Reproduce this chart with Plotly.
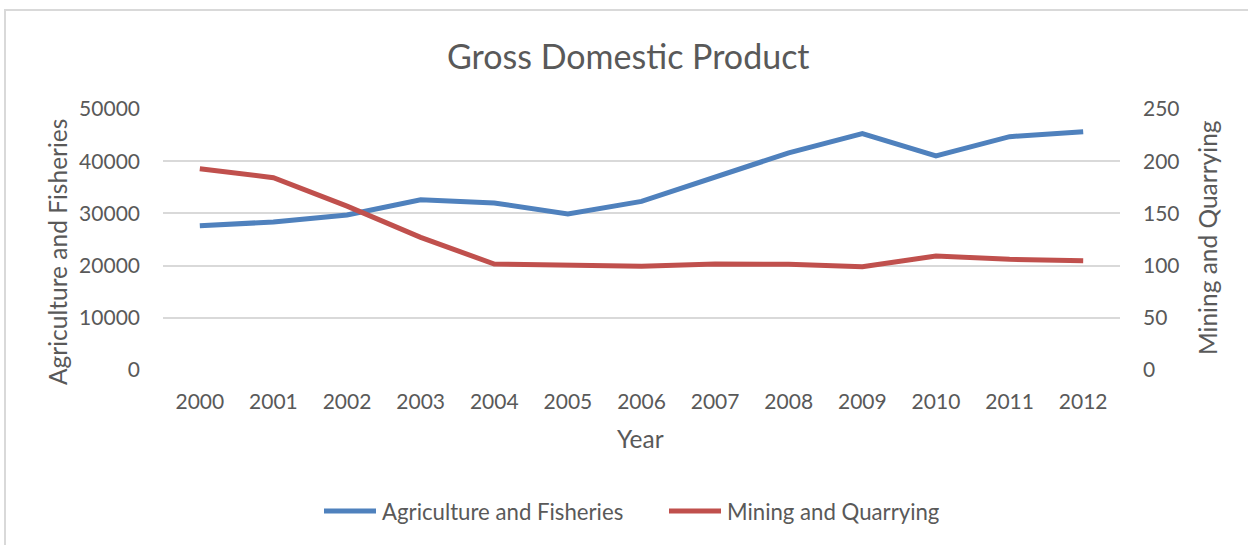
import plotly.graph_objects as go

# Gross domestic product by sector, 2000-2012
years = ["2000", "2001", "2002", "2003", "2004", "2005", "2006",
         "2007", "2008", "2009", "2010", "2011", "2012"]
agriculture_fisheries = [27650, 28350, 29700, 32600, 32000, 29900, 32300,
                         36900, 41600, 45300, 41000, 44700, 45650]
mining_quarrying = [192.8, 184.2, 157, 127, 101.5, 100.9, 99.3,
                    101.5, 101.2, 99, 109.2, 106, 104.7]

left_ticks = [0, 10000, 20000, 30000, 40000, 50000]
right_ticks = [0, 50, 100, 150, 200, 250]

W, H = 1248, 545
L, R, T, B = 163, 1120, 109, 370  # plot area in pixels

BLUE = "#4f81bd"
RED = "#c0504d"
GRID = "#d9d9d9"
TEXT = "#595959"
FONT = "Lato"


def px(x):
    return (x - L) / (R - L)


def py(y):
    return (B - y) / (B - T)


fig = go.Figure()
fig.add_trace(go.Scatter(x=years, y=agriculture_fisheries, mode="lines",
                         name="Agriculture and Fisheries",
                         line=dict(color=BLUE, width=5)))
fig.add_trace(go.Scatter(x=years, y=mining_quarrying, mode="lines",
                         name="Mining and Quarrying", yaxis="y2",
                         line=dict(color=RED, width=5)))

fig.update_layout(
    width=W, height=H,
    margin=dict(l=L, r=W - R, t=T, b=H - B),
    paper_bgcolor="white", plot_bgcolor="white",
    showlegend=False,
    font=dict(family=FONT, size=21, color=TEXT),
    xaxis=dict(type="category", range=[-0.5, 12.5], showgrid=False,
               zeroline=False, showline=False, ticks="",
               ticklabelstandoff=17, tickfont=dict(size=21, color=TEXT)),
    yaxis=dict(range=[0, 50000], tickvals=left_ticks,
               ticktext=[str(v) for v in left_ticks],
               showgrid=True, gridcolor=GRID, gridwidth=1.5,
               zeroline=False, showline=False, ticks="",
               ticklabelstandoff=22, tickfont=dict(size=21, color=TEXT)),
    yaxis2=dict(range=[0, 250], tickvals=right_ticks, overlaying="y",
                side="right", showgrid=False, zeroline=False,
                showline=False, ticks="", ticklabelstandoff=22,
                tickfont=dict(size=21, color=TEXT)),
)

annotations = [
    dict(text="Gross Domestic Product", x=px(628), y=py(55),
         font=dict(size=34, color=TEXT)),
    dict(text="Year", x=px(640), y=py(438), font=dict(size=24.5, color=TEXT)),
    dict(text="Agriculture and Fisheries", x=px(57), y=py(252),
         textangle=-90, font=dict(size=24.5, color=TEXT)),
    dict(text="Mining and Quarrying", x=px(1207), y=py(238),
         textangle=-90, font=dict(size=24.5, color=TEXT)),
    dict(text="Agriculture and Fisheries", x=px(380), y=py(511),
         xanchor="left", font=dict(size=22.2, color=TEXT)),
    dict(text="Mining and Quarrying", x=px(725), y=py(511),
         xanchor="left", font=dict(size=22.2, color=TEXT)),
]
for a in annotations:
    a.setdefault("xanchor", "center")
    a.update(xref="paper", yref="paper", yanchor="middle", showarrow=False)
fig.update_layout(annotations=annotations)

shapes = [
    # chart frame
    dict(type="rect", x0=px(5), x1=px(1260), y0=py(560), y1=py(10),
         line=dict(color=GRID, width=2), fillcolor="rgba(0,0,0,0)"),
    # legend samples
    dict(type="line", x0=px(324), x1=px(376), y0=py(511), y1=py(511),
         line=dict(color=BLUE, width=5)),
    dict(type="line", x0=px(669), x1=px(721), y0=py(511), y1=py(511),
         line=dict(color=RED, width=5)),
]
for s in shapes:
    s.update(xref="paper", yref="paper", layer="above")
fig.update_layout(shapes=shapes)

fig.write_html("out.html")
